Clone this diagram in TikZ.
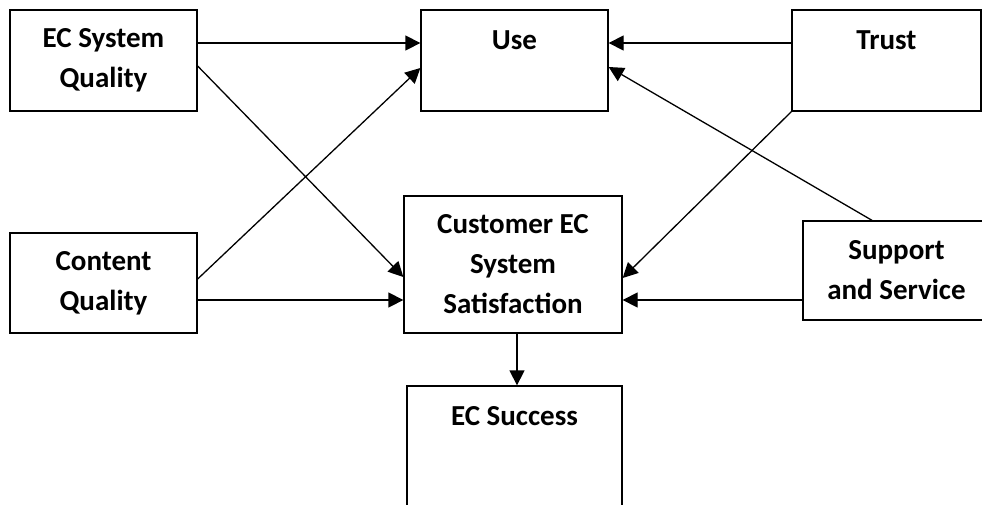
\documentclass[tikz,border=0pt]{standalone}
\usepackage{fontspec}
\setmainfont{Carlito}
\usepackage{tikz}
\usetikzlibrary{arrows.meta}

\begin{document}
\begin{tikzpicture}[x=1pt, y=-1pt, >={Triangle[length=15pt,width=15pt]},
  box/.style={draw, line width=1.3pt, align=center, inner sep=0pt,
    font=\fontsize{29}{40}\selectfont\bfseries},
  topbox/.style={box, text height=39pt, text depth=#1},
  conn/.style={->, line width=1.3pt}]
  \clip (0,0) rectangle (982,504);

  % Left column
  \node[box, minimum width=187pt, minimum height=101pt] (esq) at (103.5,60.5) {EC System\\Quality};
  \node[box, minimum width=187pt, minimum height=100pt] (cq) at (103.5,283) {Content\\Quality};

  % Middle column
  \node[topbox=62pt, minimum width=187pt] (use) at (514.5,60.5) {Use};
  \node[box, minimum width=218pt, minimum height=137pt] (sat) at (513,264.5) {Customer EC\\System\\Satisfaction};
  \node[topbox=101pt, minimum width=215pt] (ecs) at (514.5,456) {EC Success};

  % Right column
  \node[topbox=62pt, minimum width=189pt] (trust) at (886.5,60.5) {Trust};
  \node[box, minimum width=187pt, minimum height=99pt] (sup) at (896.5,270.5) {Support\\and Service};

  % Links into Use
  \draw[conn] ([yshift=17.5pt]esq.east) -- ([yshift=17.5pt]use.west);
  \draw[conn] ([yshift=4pt]cq.east) -- ([yshift=-7.5pt]use.west);
  \draw[conn] ([yshift=17.5pt]trust.west) -- ([yshift=17.5pt]use.east);
  \draw[conn] ([xshift=-24.5pt]sup.north) -- ([yshift=-6.5pt]use.east);

  % Links into Satisfaction
  \draw[conn] ([yshift=-5.5pt]esq.east) -- ([yshift=-12.5pt]sat.west);
  \draw[conn] ([yshift=-17pt]cq.east) -- ([yshift=-17pt]cq.east -| sat.west);
  \draw[conn] (trust.south west) -- ([yshift=-13.5pt]sat.east);
  \draw[conn] ([yshift=-29.5pt]sup.west) -- ([yshift=-29.5pt]sup.west -| sat.east);

  % Satisfaction to Success
  \draw[conn] ([xshift=4pt]sat.south) -- ([xshift=4pt]sat.south |- ecs.north);
\end{tikzpicture}
\end{document}
